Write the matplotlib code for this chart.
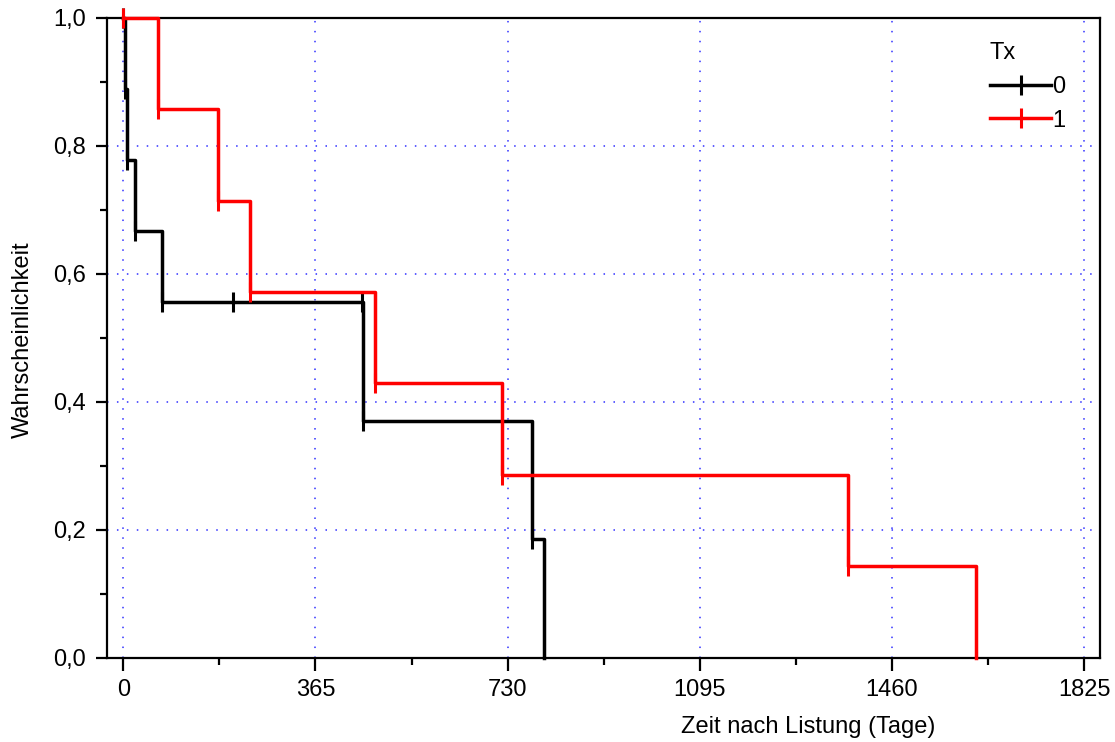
import matplotlib
matplotlib.use("Agg")
import matplotlib.pyplot as plt
from matplotlib.lines import Line2D
from matplotlib.ticker import FixedLocator, FuncFormatter

plt.rcParams['font.family'] = ['Liberation Sans', 'DejaVu Sans']
plt.rcParams['font.size'] = 17

# ---- data ----
# Tx = 0 (black)
times_0 = [0, 3, 7, 22, 74, 456, 776, 799]
surv_0 = [1.0, 0.889, 0.778, 0.667, 0.556, 0.370, 0.185, 0.0]
censor_t_0 = [208, 453]
censor_s_0 = [0.556, 0.556]

# Tx = 1 (red)
times_1 = [0, 65, 180, 241, 478, 720, 1376, 1619]
surv_1 = [1.0, 0.857, 0.714, 0.571, 0.429, 0.286, 0.143, 0.0]
censor_t_1 = []
censor_s_1 = []

group_labels = ['0', '1']
colors = ['black', 'red']
x_ticks = [0, 365, 730, 1095, 1460, 1825]
y_ticks = [0.0, 0.2, 0.4, 0.6, 0.8, 1.0]

W, H = 1115, 742
fig = plt.figure(figsize=(W / 100, H / 100), dpi=100)
ax = fig.add_axes([107 / W, (H - 657.7) / H, (1100 - 107) / W, (657.7 - 17.5) / H])

ax.set_xlim(-31, 1855)
ax.set_ylim(0, 1)

# grid
grid_kw = dict(color='#3030ff', linewidth=1.1, linestyle=(0, (1, 5.5)), zorder=0)
for xv in x_ticks:
    ax.axvline(xv, **grid_kw)
for yv in y_ticks[1:-1]:
    ax.axhline(yv, **grid_kw)

LW = 2.5
series = [(times_0, surv_0, censor_t_0, censor_s_0),
          (times_1, surv_1, censor_t_1, censor_s_1)]
for i, (t, s, ct, cs) in enumerate(series):
    c = colors[i]
    ax.step(t, s, where='post', color=c, linewidth=LW, zorder=3 + i, clip_on=False)
    # markers at each step point (except the final drop to zero)
    mt = [tt for tt, ss in zip(t, s) if ss > 0]
    ms = [ss for ss in s if ss > 0]
    ax.plot(mt, ms, linestyle='none', marker='|', markersize=14, markeredgewidth=2.2,
            color=c, zorder=3 + i, clip_on=False)
    if ct:
        ax.plot(ct, cs, linestyle='none', marker='|', markersize=14, markeredgewidth=2.2,
                color=c, zorder=3 + i, clip_on=False)

# ticks
ax.xaxis.set_major_locator(FixedLocator(x_ticks))
ax.xaxis.set_minor_locator(FixedLocator([182.5 + 365 * k for k in range(5)]))
ax.yaxis.set_major_locator(FixedLocator(y_ticks))
ax.yaxis.set_minor_locator(FixedLocator([0.1, 0.3, 0.5, 0.7, 0.9]))
ax.yaxis.set_major_formatter(FuncFormatter(lambda v, p: f"{v:.1f}".replace('.', ',')))
ax.tick_params(axis='both', which='major', direction='out', width=1.6, labelsize=17)
ax.tick_params(axis='x', which='major', length=9, pad=6)
ax.tick_params(axis='y', which='major', length=8, pad=7)
ax.tick_params(axis='both', which='minor', direction='out', width=1.6, length=5)
ax.tick_params(top=False, right=False)
for sp in ax.spines.values():
    sp.set_linewidth(1.6)

fig.text(808 / W, 1 - 727 / H, 'Zeit nach Listung (Tage)', ha='center', va='center', fontsize=17)
fig.text(23 / W, 1 - 340 / H, 'Wahrscheinlichkeit', ha='center', va='center',
         rotation=90, fontsize=17)

handles = [Line2D([], [], color=colors[i], linewidth=LW, marker='|', markersize=14,
                  markeredgewidth=2.2) for i in range(2)]
leg = ax.legend(handles, group_labels, title='Tx', loc='upper left',
                bbox_to_anchor=(990 / W, 1 - 42 / H), bbox_transform=fig.transFigure,
                frameon=False, borderpad=0, borderaxespad=0, handlelength=2.6,
                handletextpad=0.05, labelspacing=0.5, fontsize=17, title_fontsize=17,
                alignment='left', numpoints=1)

fig.savefig('out.png', dpi=100)
